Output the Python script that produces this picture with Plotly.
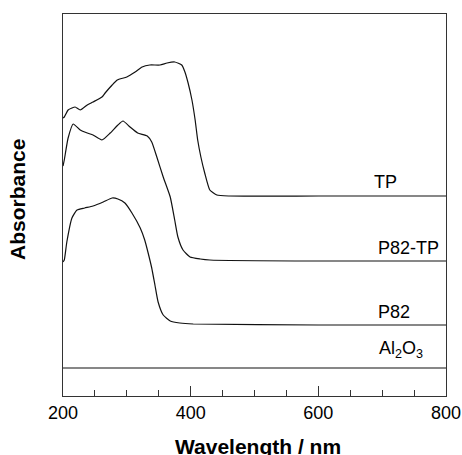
import plotly.graph_objects as go

# Wavelength (nm) and absorbance (arb. units, offset traces)
tp_wl = [200, 202, 208, 214, 219, 227, 238, 247, 261, 266, 277, 285, 300, 313, 324, 336, 352, 363,
         375, 386, 391, 396, 402, 407, 411, 416, 422, 430, 441, 460, 600, 800]
tp_abs = [2.78, 2.79, 2.86, 2.88, 2.89, 2.86, 2.91, 2.94, 2.99, 3.03, 3.11, 3.16, 3.19, 3.24, 3.29,
          3.31, 3.31, 3.33, 3.34, 3.31, 3.24, 3.13, 2.96, 2.76, 2.56, 2.39, 2.23, 2.06, 2.01, 2.00,
          2.00, 2.00]

p82tp_wl = [200, 202, 208, 216, 227, 238, 247, 261, 274, 286, 294, 305, 317, 332, 339, 347, 357,
            368, 375, 380, 388, 399, 415, 430, 600, 800]
p82tp_abs = [2.30, 2.36, 2.58, 2.72, 2.66, 2.63, 2.61, 2.56, 2.63, 2.71, 2.75, 2.69, 2.63, 2.60,
             2.54, 2.39, 2.19, 1.99, 1.76, 1.59, 1.46, 1.39, 1.37, 1.36, 1.35, 1.35]

p82_wl = [200, 202, 206, 214, 222, 234, 247, 263, 277, 286, 297, 308, 321, 328, 333, 339, 344, 349,
          357, 368, 383, 404, 600, 800]
p82_abs = [1.34, 1.36, 1.54, 1.78, 1.86, 1.88, 1.90, 1.94, 1.98, 1.97, 1.93, 1.83, 1.68, 1.56,
           1.44, 1.28, 1.11, 0.94, 0.81, 0.75, 0.73, 0.72, 0.71, 0.71]

al2o3_wl = [200, 800]
al2o3_abs = [0.28, 0.28]

labels = ["TP", "P82-TP", "P82", "Al<sub>2</sub>O<sub>3</sub>"]
label_x = [684, 691, 691, 692]
label_y = [2.14, 1.48, 0.84, 0.47]

x_ticks = [200, 400, 600, 800]
x_title = "Wavelength / nm"
y_title = "Absorbance"

FONT = "Liberation Sans, Arial, sans-serif"
fig = go.Figure()
for wl, ab in [(tp_wl, tp_abs), (p82tp_wl, p82tp_abs), (p82_wl, p82_abs), (al2o3_wl, al2o3_abs)]:
    fig.add_trace(go.Scatter(x=wl, y=ab, mode="lines",
                             line=dict(color="#111", width=1.2, shape="spline", smoothing=0.5),
                             showlegend=False, hoverinfo="skip"))

for t, x, y in zip(labels, label_x, label_y):
    fig.add_annotation(x=x, y=y, text=t, showarrow=False, xanchor="left", yanchor="middle",
                       font=dict(family=FONT, size=18, color="black"))

# axis titles as paper-anchored annotations
fig.add_annotation(xref="paper", yref="paper", x=0.509, y=-0.131, text=f"<b>{x_title}</b>",
                   showarrow=False, xanchor="center", yanchor="middle",
                   font=dict(family=FONT, size=21, color="black"))
fig.add_annotation(xref="paper", yref="paper", x=-0.1175, y=0.516, text=f"<b>{y_title}</b>",
                   showarrow=False, xanchor="center", yanchor="middle", textangle=-90,
                   font=dict(family=FONT, size=21, color="black"))

fig.update_layout(
    width=462, height=455,
    margin=dict(l=63, r=16, t=14, b=59, autoexpand=False),
    paper_bgcolor="white", plot_bgcolor="white",
    font=dict(family=FONT, color="black"),
)
fig.update_xaxes(
    range=[200, 800], tickvals=x_ticks, ticktext=[str(v) for v in x_ticks],
    ticks="inside", ticklen=10, tickwidth=1, tickcolor="#333",
    minor=dict(ticks="inside", ticklen=6, dtick=50, tick0=200, tickcolor="#333", tickwidth=1),
    showline=True, mirror=True, linecolor="#333", linewidth=1,
    showgrid=False, zeroline=False, automargin=False,
    tickfont=dict(size=18, family=FONT, color="black"),
)
fig.update_yaxes(
    range=[0, 3.82], showticklabels=False, ticks="",
    showline=True, mirror=True, linecolor="#333", linewidth=1,
    showgrid=False, zeroline=False, automargin=False,
)
fig.write_html("out.html", config={"displayModeBar": False},
               post_script="document.body.style.margin='0';document.body.style.overflow='hidden';")
